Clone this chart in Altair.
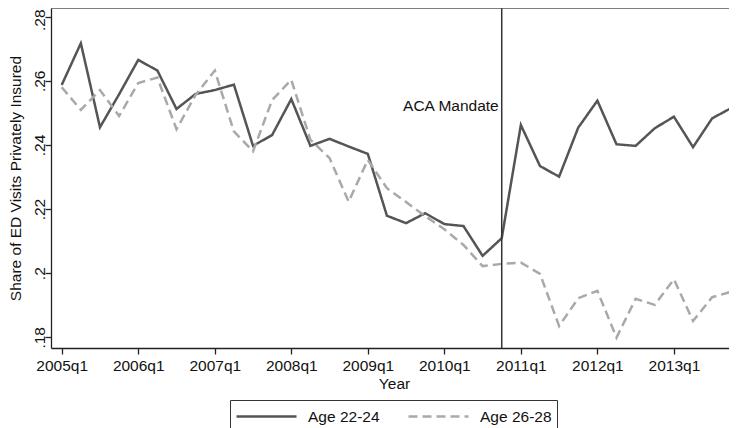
import altair as alt
import pandas as pd

quarters = [f"{y}q{q}" for y in range(2005, 2014) for q in range(1, 5)]

age_22_24 = [0.2587, 0.2717, 0.2455, 0.2558, 0.2665, 0.2632, 0.2512, 0.2559, 0.2571, 0.2588,
             0.2397, 0.2431, 0.2543, 0.2397, 0.2419, 0.2395, 0.2372, 0.2179, 0.2156, 0.2187,
             0.2153, 0.2147, 0.2054, 0.2109, 0.2462, 0.2334, 0.2301, 0.2454, 0.2538, 0.2402,
             0.2397, 0.2452, 0.2488, 0.2393, 0.2483, 0.2515]
age_26_28 = [0.2580, 0.2509, 0.2571, 0.2490, 0.2593, 0.2610, 0.2449, 0.2556, 0.2632, 0.2442,
             0.2380, 0.2540, 0.2603, 0.2416, 0.2359, 0.2223, 0.2353, 0.2265, 0.2222, 0.2178,
             0.2137, 0.2088, 0.2022, 0.2029, 0.2033, 0.1998, 0.1835, 0.1922, 0.1945, 0.1799,
             0.1920, 0.1901, 0.1981, 0.1851, 0.1925, 0.1942]

series_names = ["Age 22-24", "Age 26-28"]
x_tick_labels = ["2005q1", "2006q1", "2007q1", "2008q1", "2009q1",
                 "2010q1", "2011q1", "2012q1", "2013q1"]
y_ticks = [0.18, 0.20, 0.22, 0.24, 0.26, 0.28]
mandate_quarter = "2010q4"
mandate_label = "ACA Mandate"
mandate_label_y = 0.2522

FONT = "Liberation Sans"
FS = 15.5

rows = []
for name, vals in zip(series_names, [age_22_24, age_26_28]):
    for i, (q, v) in enumerate(zip(quarters, vals)):
        rows.append({"t": i, "quarter": q, "share": v, "group": name})
df = pd.DataFrame(rows)

tick_vals = [quarters.index(l) for l in x_tick_labels]
label_expr = "[" + ",".join("'" + q + "'" for q in quarters) + "][datum.value]"

x_scale = alt.Scale(domain=[-0.56, 34.88], nice=False, zero=False)
y_scale = alt.Scale(domain=[0.17666, 0.2827], nice=False, zero=False)

legend = alt.Legend(
    title=None, orient="none", legendX=179, legendY=392, direction="horizontal",
    symbolType="M-1,0H5", symbolSize=400, symbolStrokeWidth=2.5,
    labelFont=FONT, labelFontSize=FS, labelColor="#111", labelOffset=50,
    columnPadding=23, padding=5, strokeColor="#333", fillColor="white",
)

lines = alt.Chart(df).mark_line(strokeWidth=2.5, clip=True).encode(
    x=alt.X("t:Q", scale=x_scale,
            axis=alt.Axis(values=tick_vals, labelExpr=label_expr, title="Year",
                          labelBaseline="alphabetic", labelPadding=16.5,
                          titleX=343, titleY=40.3, titleBaseline="alphabetic",
                          titleAlign="center")),
    y=alt.Y("share:Q", scale=y_scale,
            axis=alt.Axis(values=y_ticks,
                          labelExpr="substring(format(datum.value,'.2~f'),1)",
                          labelAngle=270, labelAlign="center", labelBaseline="alphabetic",
                          labelPadding=0.5,
                          labelOffset={"condition": {"test": "datum.value > 0.27", "value": 3},
                                       "value": 0},
                          title="Share of ED Visits Privately Insured",
                          titleAngle=270, titleX=-36, titleY=170,
                          titleAlign="center", titleBaseline="middle")),
    color=alt.Color("group:N", scale=alt.Scale(domain=series_names,
                                               range=["#555555", "#a9a9a9"]),
                    legend=legend),
    strokeDash=alt.StrokeDash("group:N", scale=alt.Scale(domain=series_names,
                                                         range=[[1, 0], [9, 5]]),
                              legend=legend),
)

mandate_df = pd.DataFrame({"t": [quarters.index(mandate_quarter)],
                           "share": [mandate_label_y], "label": [mandate_label]})

rule = alt.Chart(mandate_df).mark_rule(color="#333333", strokeWidth=1.5).encode(x="t:Q")
top_frame = alt.Chart(mandate_df).mark_rule(color="#555555", strokeWidth=1.3).encode(
    y=alt.value(0))
text = alt.Chart(mandate_df).mark_text(align="right", dx=-3, font=FONT, fontSize=FS,
                                       color="#111").encode(
    x="t:Q", y="share:Q", text="label:N")

chart = alt.layer(lines, rule, top_frame, text).properties(
    width=678, height=340,
    padding={"left": 43, "top": 0, "right": 0, "bottom": 80},
    autosize=alt.AutoSizeParams(type="none"),
).configure_view(stroke=None).configure_axis(
    grid=False, domainColor="#222222", domainWidth=1.3, tickColor="#222222",
    tickWidth=1.3, tickSize=6, labelFont=FONT, labelFontSize=FS, labelColor="#111",
    titleFont=FONT, titleFontSize=FS, titleFontWeight="normal", titleColor="#111",
)

chart.save("out.html", embed_options={"renderer": "svg", "actions": False})
